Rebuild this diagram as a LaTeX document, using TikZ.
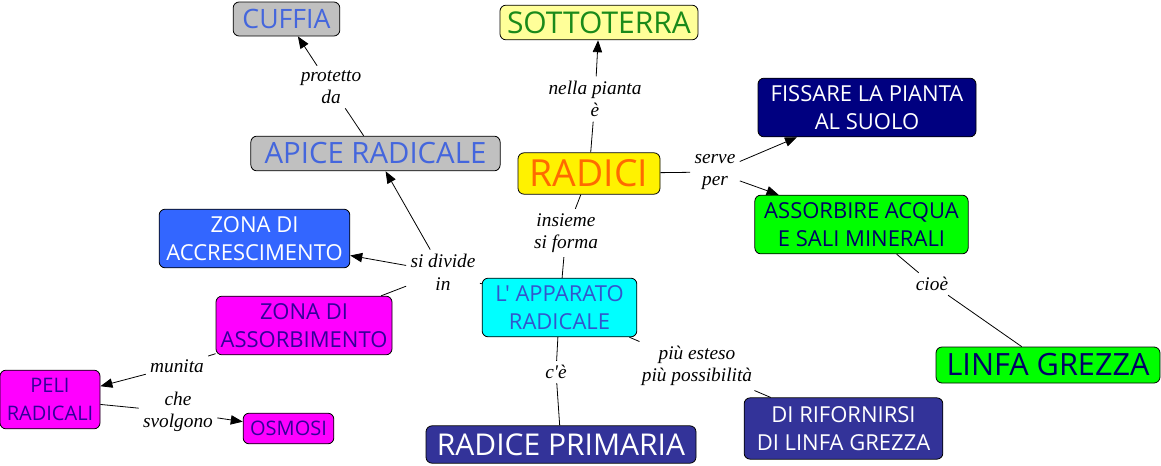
\documentclass[tikz,border=0pt]{standalone}
\usepackage{fontspec}
\setmainfont{Open Sans}[Ligatures=TeXOff]
\newfontfamily\linkfont{Liberation Serif}[Ligatures=TeXOff]
\usetikzlibrary{arrows.meta}

\definecolor{boxgray}{HTML}{C0C0C0}
\definecolor{apiceblue}{HTML}{4466DD}
\definecolor{paleyellow}{HTML}{FFFF99}
\definecolor{darkgreen}{HTML}{1A8A1A}
\definecolor{navyfill}{HTML}{000080}
\definecolor{orangetext}{HTML}{FF6A00}
\definecolor{limefill}{HTML}{00FF00}
\definecolor{navytext}{HTML}{000066}
\definecolor{accrblue}{HTML}{3366FF}
\definecolor{cyanfill}{HTML}{00FFFF}
\definecolor{cyantext}{HTML}{3355CC}
\definecolor{magentafill}{HTML}{FF00FF}
\definecolor{purpletext}{HTML}{330099}
\definecolor{indigofill}{HTML}{333399}

\begin{document}
\begin{tikzpicture}[x=0.75pt,y=-0.75pt,>={Triangle[length=9pt,width=7pt]},line width=0.6pt,
  concept/.style={draw=black,rounded corners=4.5pt,inner sep=0pt,align=center},
  small/.style={font=\fontsize{16.5}{20.5}\selectfont},
  link/.style={font=\linkfont\itshape\fontsize{14.5}{17}\selectfont,align=center,inner sep=3pt}]
\useasboundingbox (0,0) rectangle (1161,465);

%%%%%%%%%%%%%%%% concepts
\node[concept,fill=boxgray,text=apiceblue,font=\fontsize{20}{24}\selectfont,minimum width=80pt,minimum height=25.5pt] (cuffia) at (286.5,19) {CUFFIA};
\node[concept,fill=paleyellow,text=darkgreen,font=\fontsize{22.5}{24}\selectfont,minimum width=148.5pt,minimum height=26pt] (sotto) at (599,22.5) {SOTTOTERRA};
\node[concept,fill=navyfill,text=white,small,minimum width=163.5pt,minimum height=44pt] (fissare) at (867,107.5) {FISSARE LA PIANTA\\AL SUOLO};
\node[concept,fill=boxgray,text=apiceblue,font=\fontsize{22}{24}\selectfont,minimum width=187pt,minimum height=26pt] (apice) at (375.5,153.5) {APICE RADICALE};
\node[concept,fill=yellow,text=orangetext,font=\fontsize{28}{30}\selectfont,minimum width=106.5pt,minimum height=31pt] (radici) at (589,173.5) {RADICI};
\node[concept,fill=limefill,text=navytext,small,minimum width=160pt,minimum height=44pt] (assorbire) at (861.5,224.5) {ASSORBIRE ACQUA\\E SALI MINERALI};
\node[concept,fill=accrblue,text=white,small,minimum width=143pt,minimum height=44pt] (accr) at (254.5,238.5) {ZONA DI\\ACCRESCIMENTO};
\node[concept,fill=cyanfill,text=cyantext,small,minimum width=116pt,minimum height=44pt] (apparato) at (559.5,307.5) {L' APPARATO\\RADICALE};
\node[concept,fill=magentafill,text=purpletext,small,minimum width=132pt,minimum height=44pt] (zass) at (304,325.5) {ZONA DI\\ASSORBIMENTO};
\node[concept,fill=limefill,text=navytext,font=\fontsize{23}{25}\selectfont,minimum width=168pt,minimum height=27pt] (linfa) at (1048,365) {LINFA GREZZA};
\node[concept,fill=magentafill,text=purpletext,font=\fontsize{15}{20.5}\selectfont,minimum width=75pt,minimum height=44pt] (peli) at (50,399.5) {PELI\\RADICALI};
\node[concept,fill=magentafill,text=purpletext,font=\fontsize{15}{20.5}\selectfont,minimum width=68pt,minimum height=23pt] (osmosi) at (288.5,428.5) {OSMOSI};
\node[concept,fill=indigofill,text=white,font=\fontsize{22.5}{25}\selectfont,minimum width=202.5pt,minimum height=28pt] (primaria) at (561,444.5) {RADICE PRIMARIA};
\node[concept,fill=indigofill,text=white,small,minimum width=149pt,minimum height=46pt] (rifornirsi) at (843.5,428.5) {DI RIFORNIRSI\\DI LINFA GREZZA};

%%%%%%%%%%%%%%%% linking phrases
\node[link] (protetto) at (331,87) {protetto\\da};
\node[link] (nella) at (595,99) {nella pianta\\è};
\node[link] (serve) at (715,172) {serve\\per};
\node[link] (insieme) at (566,233) {insieme\\si forma};
\node[link] (divide) at (443,272) {si divide\\in};
\node[link] (munita) at (177,366) {munita};
\node[link] (svolgono) at (178,412) {che\\svolgono};
\node[link] (ce) at (556,372) {c'è};
\node[link] (esteso) at (697,366) {più esteso\\più possibilità};
\node[link] (cioe) at (932,284) {cioè};

%%%%%%%%%%%%%%%% connectors
\draw (apice) -- (protetto); \draw[->] (protetto) -- (cuffia);
\draw (radici) -- (nella); \draw[->] (nella) -- (sotto);
\draw (radici) -- (serve);
\draw[->] (serve) -- (fissare);
\draw[->] (serve) -- (assorbire);
\draw (radici) -- (insieme); \draw (insieme) -- (apparato);
\draw (apparato) -- (divide);
\draw[->] (divide) -- (apice);
\draw[->] (divide) -- (accr);
\draw (divide) -- (zass);
\draw (zass) -- (munita); \draw[->] (munita) -- (peli);
\draw (peli) -- (svolgono); \draw[->] (svolgono) -- (osmosi);
\draw (apparato) -- (ce); \draw (ce) -- (primaria);
\draw (apparato) -- (esteso); \draw (esteso) -- (rifornirsi);
\draw (assorbire) -- (cioe); \draw (cioe) -- (linfa);
\end{tikzpicture}
\end{document}
